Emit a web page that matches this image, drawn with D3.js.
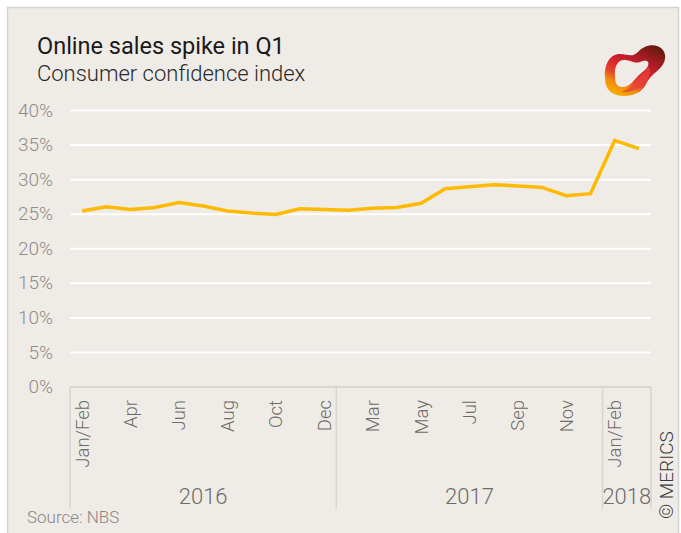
<!DOCTYPE html>
<html>
<head>
<meta charset="utf-8">
<script src="https://cdn.jsdelivr.net/npm/d3@7"></script>
<style>
  body { margin: 0; background: #fff; }
  svg { display: block; font-family: Roboto, "Open Sans", sans-serif; }
</style>
</head>
<body>
<svg></svg>
<script>
const months = ['Jan/Feb', 'Mar', 'Apr', 'May', 'Jun', 'Jul', 'Aug', 'Sep', 'Oct', 'Nov', 'Dec'];
const years = ['2016', '2017', '2018'];
const monthsPerYear = [11, 11, 2];
const values2016 = [25.4, 26.0, 25.6, 25.9, 26.6, 26.1, 25.4, 25.1, 24.9, 25.7, 25.6];
const values2017 = [25.5, 25.8, 25.9, 26.5, 28.6, 28.9, 29.2, 29.0, 28.8, 27.6, 27.9];
const values2018 = [35.6, 34.4];
const yTicks = [0, 5, 10, 15, 20, 25, 30, 35, 40];

const seriesByYear = [values2016, values2017, values2018];
const data = years.flatMap((yr, i) =>
  months.slice(0, monthsPerYear[i]).map((m, j) => ({
    key: yr + '-' + m, year: yr, month: m, value: seriesByYear[i][j]
  })));

const W = 681, H = 533;
const plotLeft = 70, plotRight = 651, plotTop = 110, plotBottom = 386.5;

const svg = d3.select('svg')
    .attr('width', W)
    .attr('height', H);

// panel
svg.append('rect')
    .attr('x', 7.5).attr('y', 7.5)
    .attr('width', W - 10).attr('height', H - 6)
    .attr('fill', '#efebe6')
    .attr('stroke', '#d6d3cf')
    .attr('stroke-width', 1.5);

svg.append('text')
    .attr('x', 37).attr('y', 54)
    .attr('font-size', 23.5)
    .attr('fill', '#1a1a1a')
    .text('Online sales spike in Q1');

svg.append('text')
    .attr('x', 37).attr('y', 81)
    .attr('font-size', 22)
    .attr('font-weight', 300)
    .attr('fill', '#2a2a2a')
    .text('Consumer confidence index');

// logo
const defs = svg.append('defs');
const grad = defs.append('linearGradient')
    .attr('id', 'logoGrad')
    .attr('x1', 0.9).attr('y1', 0).attr('x2', 0.3).attr('y2', 1);
[[0, '#5a1a0c'], [0.3, '#a81c22'], [0.5, '#d21f2e'], [0.72, '#e4422c'], [0.85, '#f08a10'], [1, '#f7a800']]
  .forEach(([o, c]) => grad.append('stop').attr('offset', o).attr('stop-color', c));

const logo = svg.append('g');
logo.append('path')
    .attr('fill', 'url(#logoGrad)')
    .attr('fill-rule', 'evenodd')
    .attr('d', 'M605,78 C604,64 610,54 620,54 C628,54 632,58 638,52 C645,44 657,43 663,50 C668,57 664,66 656,72 C650,77 648,80 645,86 C640,94 628,98 617,95 C608,92 605,86 605,78 Z ' +
               'M615,77 C614,66 618,60 624,60 C631,60 634,64 640,62 C645,60 650,60 648,66 C646,70 642,72 638,76 C633,81 630,87 622,87 C617,87 615,83 615,77 Z');
logo.append('path')
    .attr('fill', '#e8413a')
    .attr('opacity', 0.75)
    .attr('d', 'M648,66 C652,70 650,77 645,83 C640,89 630,93 621,92 C629,89 635,84 639,78 C643,73 646,70 648,66 Z');

// scales
const x = d3.scaleBand()
    .domain(data.map(d => d.key))
    .range([plotLeft, plotRight]);
const cx = k => x(k) + x.bandwidth() / 2;

const y = d3.scaleLinear()
    .domain([0, 40])
    .range([plotBottom, plotTop]);

// gridlines
svg.append('g')
    .attr('transform', `translate(${plotLeft},0)`)
    .call(d3.axisLeft(y).tickValues(yTicks).tickSize(-(plotRight - plotLeft)).tickFormat(''))
    .call(g => g.select('.domain').remove())
    .call(g => g.selectAll('line').attr('stroke', '#ffffff').attr('stroke-width', 2));

// y labels
svg.append('g')
    .attr('transform', 'translate(53,0)')
    .call(d3.axisLeft(y).tickValues(yTicks).tickSize(0).tickPadding(0).tickFormat(d => d + '%'))
    .call(g => g.select('.domain').remove())
    .call(g => g.selectAll('text')
        .attr('font-family', 'Roboto, sans-serif')
        .attr('font-size', 19)
        .attr('font-weight', 300)
        .attr('fill', '#8f8c89'));

// x axis box
const axisTop = 387, axisBottom = 509;
const boxColor = '#d9d5d1';
svg.append('line')
    .attr('x1', plotLeft).attr('x2', plotRight)
    .attr('y1', axisTop).attr('y2', axisTop)
    .attr('stroke', boxColor).attr('stroke-width', 2);

const firstKeys = years.map(yr => data.find(d => d.year === yr).key);
const dividers = firstKeys.map(k => x(k)).concat([plotRight]);
svg.selectAll('.divider')
  .data(dividers)
  .join('line')
    .attr('class', 'divider')
    .attr('x1', d => d).attr('x2', d => d)
    .attr('y1', axisTop).attr('y2', axisBottom)
    .attr('stroke', boxColor).attr('stroke-width', 1.5);

// month labels
svg.append('g')
    .attr('transform', `translate(0,${axisTop})`)
    .call(d3.axisBottom(x)
        .tickValues(data.filter((d, i) => i % 2 === 0).map(d => d.key))
        .tickSize(0)
        .tickFormat(k => data.find(d => d.key === k).month))
    .call(g => g.select('.domain').remove())
    .call(g => g.selectAll('text')
        .attr('transform', 'rotate(-90)')
        .attr('x', -13)
        .attr('y', 0)
        .attr('dy', '0.35em')
        .attr('text-anchor', 'end')
        .attr('font-family', 'Roboto, sans-serif')
        .attr('font-size', 18.5)
        .attr('font-weight', 300)
        .attr('fill', '#6e6b68'));

// year labels
svg.selectAll('.year')
  .data(years)
  .join('text')
    .attr('class', 'year')
    .attr('x', (yr, i) => (dividers[i] + dividers[i + 1]) / 2)
    .attr('y', 504)
    .attr('text-anchor', 'middle')
    .attr('font-size', 22)
    .attr('font-weight', 300)
    .attr('fill', '#6e6b68')
    .text(d => d);

// line
svg.append('path')
    .datum(data)
    .attr('fill', 'none')
    .attr('stroke', '#fdba00')
    .attr('stroke-width', 3.5)
    .attr('d', d3.line().x(d => cx(d.key)).y(d => y(d.value)));

svg.append('text')
    .attr('x', 27).attr('y', 523)
    .attr('font-size', 17)
    .attr('font-weight', 300)
    .attr('fill', '#8a8784')
    .text('Source:  NBS');

svg.append('text')
    .attr('transform', 'translate(673,519) rotate(-90)')
    .attr('font-size', 19)
    .attr('font-weight', 300)
    .attr('fill', '#3a3a3a')
    .text('© MERICS');
</script>
</body>
</html>
